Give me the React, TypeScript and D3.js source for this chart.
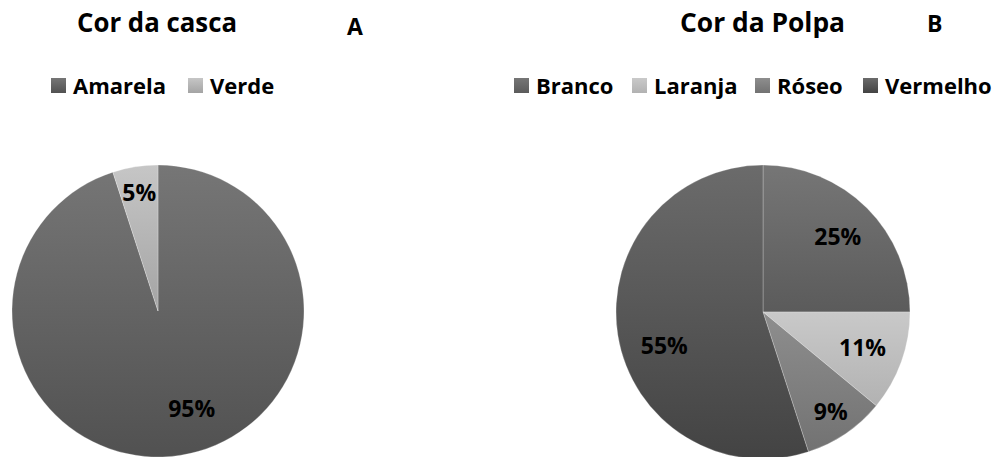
import React from 'react';
import * as d3 from 'd3';

// Shell colour (Cor da casca)
const shellCategories = ['Amarela', 'Verde'];
const shellValues = [95, 5];

// Pulp colour (Cor da Polpa)
const pulpCategories = ['Branco', 'Laranja', 'Róseo', 'Vermelho'];
const pulpValues = [25, 11, 9, 55];

// Vertical gradient stops (top, bottom) per category
const shellShades: [string, string][] = [
  ['#767676', '#515151'],
  ['#c6c6c6', '#a4a4a4'],
];
const pulpShades: [string, string][] = [
  ['#767676', '#5b5b5b'],
  ['#c9c9c9', '#b2b2b2'],
  ['#8e8e8e', '#727272'],
  ['#6b6b6b', '#434343'],
];

const W = 1002;
const H = 457;
const FONT = '"Open Sans", Lato, "DejaVu Sans", sans-serif';

interface PanelSpec {
  id: string;
  title: string;
  letter: string;
  categories: string[];
  values: number[];
  shades: [string, string][];
  cx: number;
  cy: number;
  r: number;
  titleX: number;
  titleW: number;
  letterX: number;
  letterY: number;
  legendX: number[];
}

const panels: PanelSpec[] = [
  {
    id: 'casca',
    title: 'Cor da casca',
    letter: 'A',
    categories: shellCategories,
    values: shellValues,
    shades: shellShades,
    cx: 158,
    cy: 311,
    r: 146,
    titleX: 77,
    titleW: 160,
    letterX: 347,
    letterY: 35,
    legendX: [51, 188],
  },
  {
    id: 'polpa',
    title: 'Cor da Polpa',
    letter: 'B',
    categories: pulpCategories,
    values: pulpValues,
    shades: pulpShades,
    cx: 763,
    cy: 312,
    r: 147,
    titleX: 680,
    titleW: 165,
    letterX: 927,
    letterY: 32,
    legendX: [514, 632, 755, 863],
  },
];

const DEG = Math.PI / 180;

function Panel({ p }: { p: PanelSpec }) {
  const total = d3.sum(p.values);
  const pie = d3.pie<number>().sort(null).value((d) => d);
  const arcs = pie(p.values);
  const arc = d3.arc<d3.PieArcDatum<number>>().innerRadius(0).outerRadius(p.r);
  const fmt = d3.format('.0%');

  return (
    <g>
      <defs>
        {p.shades.map((s, i) => (
          <linearGradient key={i} id={`${p.id}-g${i}`} x1="0" y1="0" x2="0" y2="1">
            <stop offset="0" stopColor={s[0]} />
            <stop offset="1" stopColor={s[1]} />
          </linearGradient>
        ))}
      </defs>

      <text x={p.titleX} y={32} fontFamily={FONT} fontWeight={700} fontSize={26}
        textLength={p.titleW} lengthAdjust="spacingAndGlyphs" fill="#000">
        {p.title}
      </text>
      <text x={p.letterX} y={p.letterY} fontFamily={FONT} fontWeight={700} fontSize={23} fill="#000">
        {p.letter}
      </text>

      {p.categories.map((c, i) => (
        <g key={c} transform={`translate(${p.legendX[i]},78)`}>
          <rect width={15} height={15} fill={`url(#${p.id}-g${i})`} />
          <text x={22} y={15.5} fontFamily={FONT} fontWeight={700} fontSize={22} fill="#000">
            {c}
          </text>
        </g>
      ))}

      <g transform={`translate(${p.cx},${p.cy})`}>
        {arcs.map((a, i) => (
          <path key={i} d={arc(a) || ''} fill={`url(#${p.id}-g${i})`}
            stroke="#ffffff" strokeOpacity={0.25} strokeWidth={1} />
        ))}
        {arcs.map((a, i) => {
          const share = a.value / total;
          // small slices: label near the rim; large slices: label pulled
          // back toward the start of the slice
          const lr = p.r * (share < 0.1 ? 0.82 : share > 0.5 ? 0.71 : 0.72);
          const mid = (a.startAngle + a.endAngle) / 2 - (share > 0.5 ? 10 * DEG : 0);
          const lx = lr * Math.sin(mid);
          const ly = -lr * Math.cos(mid);
          return (
            <text key={`l${i}`} x={lx} y={ly} dy="0.36em" textAnchor="middle"
              fontFamily={FONT} fontWeight={700} fontSize={23} fill="#000">
              {fmt(share)}
            </text>
          );
        })}
      </g>
    </g>
  );
}

export default function App() {
  return (
    <svg width={W} height={H} viewBox={`0 0 ${W} ${H}`}
      style={{ position: 'absolute', left: 0, top: 0, background: '#fff' }}>
      <rect width={W} height={H} fill="#fff" />
      {panels.map((p) => (
        <Panel key={p.id} p={p} />
      ))}
    </svg>
  );
}
